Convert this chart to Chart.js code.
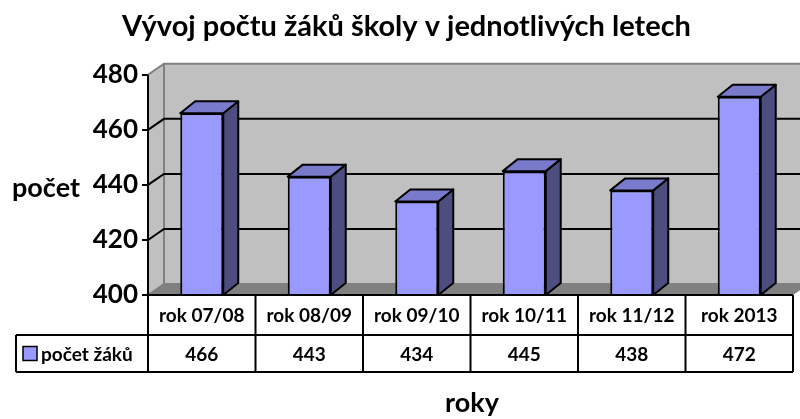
<!DOCTYPE html>
<html><head><meta charset="utf-8">
<script src="https://cdn.jsdelivr.net/npm/chart.js@4/dist/chart.umd.min.js"></script>
<style>html,body{margin:0;padding:0;background:#fff;overflow:hidden}</style>
</head><body>
<canvas id="c" width="800" height="419"></canvas>
<script>
const categories = ['rok 07/08','rok 08/09','rok 09/10','rok 10/11','rok 11/12','rok 2013'];
const pocetZaku = [466,443,434,445,438,472];
const yTicks = [400,420,440,460,480];
const seriesName = 'počet žáků';
const chartTitle = 'Vývoj počtu žáků školy v jednotlivých letech';
const yTitle = 'počet';
const xTitle = 'roky';

const FONT = 'Lato, "Open Sans", sans-serif';
const DX = 16, DY = -11;   // wall depth
const BDX = 15, BDY = -12; // bar depth
const TABLE_ROW1 = 40, TABLE_ROW2 = 37, LEGEND_LEFT = 16;

const plugin3d = {
  id: 'excel3d',
  beforeDatasetsDraw(chart) {
    const {ctx, chartArea: a, scales: {y}} = chart;
    const W = chart.width;
    ctx.save();
    ctx.fillStyle = '#C0C0C0';
    ctx.fillRect(a.left + DX, a.top + DY, W - a.left, a.bottom - a.top);
    ctx.beginPath();
    ctx.moveTo(a.left, a.top); ctx.lineTo(a.left + DX, a.top + DY);
    ctx.lineTo(a.left + DX, a.bottom + DY); ctx.lineTo(a.left, a.bottom);
    ctx.closePath(); ctx.fill();
    ctx.fillStyle = '#808080';
    ctx.beginPath();
    ctx.moveTo(a.left, a.bottom); ctx.lineTo(a.left + DX, a.bottom + DY);
    ctx.lineTo(a.right + DX, a.bottom + DY); ctx.lineTo(a.right, a.bottom);
    ctx.closePath(); ctx.fill();
    ctx.strokeStyle = '#808080'; ctx.lineWidth = 2;
    ctx.beginPath();
    ctx.moveTo(a.left, a.top); ctx.lineTo(a.left + DX, a.top + DY); ctx.lineTo(W, a.top + DY);
    ctx.moveTo(a.left + DX, a.top + DY); ctx.lineTo(a.left + DX, a.bottom + DY); ctx.lineTo(W, a.bottom + DY);
    ctx.moveTo(a.left, a.bottom); ctx.lineTo(a.left + DX, a.bottom + DY);
    ctx.stroke();
    ctx.strokeStyle = '#000'; ctx.lineWidth = 2;
    yTicks.slice(1, -1).forEach(v => {
      const py = y.getPixelForValue(v);
      ctx.beginPath();
      ctx.moveTo(a.left, py); ctx.lineTo(a.left + DX, py + DY); ctx.lineTo(W, py + DY);
      ctx.stroke();
    });
    ctx.restore();
  },
  afterDatasetsDraw(chart) {
    const {ctx, chartArea: a} = chart;
    ctx.save();
    ctx.lineWidth = 2; ctx.strokeStyle = '#000'; ctx.lineJoin = 'round';
    chart.getDatasetMeta(0).data.forEach(bar => {
      const {x, y, width} = bar.getProps(['x','y','width'], true);
      const base = a.bottom;
      const l = x - width / 2, r = x + width / 2;
      ctx.fillStyle = '#4D4D80';
      ctx.beginPath();
      ctx.moveTo(r, y); ctx.lineTo(r + BDX, y + BDY); ctx.lineTo(r + BDX, base + BDY); ctx.lineTo(r, base);
      ctx.closePath(); ctx.fill(); ctx.stroke();
      ctx.fillStyle = '#7A7ACC';
      ctx.beginPath();
      ctx.moveTo(l, y); ctx.lineTo(l + BDX, y + BDY); ctx.lineTo(r + BDX, y + BDY); ctx.lineTo(r, y);
      ctx.closePath(); ctx.fill(); ctx.stroke();
    });
    ctx.restore();
  },
  afterDraw(chart) {
    const {ctx, chartArea: a} = chart;
    const n = categories.length;
    const cw = (a.right - a.left) / n;
    const r0 = a.bottom, r1 = r0 + TABLE_ROW1, r2 = r1 + TABLE_ROW2;
    ctx.save();
    ctx.strokeStyle = '#000'; ctx.lineWidth = 2;
    ctx.beginPath();
    ctx.moveTo(a.left, a.top); ctx.lineTo(a.left, r2);
    ctx.moveTo(a.left, r0); ctx.lineTo(a.right, r0);
    ctx.moveTo(LEGEND_LEFT, r1); ctx.lineTo(a.right, r1);
    ctx.moveTo(LEGEND_LEFT, r2); ctx.lineTo(a.right, r2);
    ctx.moveTo(LEGEND_LEFT, r1); ctx.lineTo(LEGEND_LEFT, r2);
    for (let i = 1; i <= n; i++) {
      const x = a.left + i * cw;
      ctx.moveTo(x, r0); ctx.lineTo(x, r2);
    }
    ctx.stroke();
    ctx.fillStyle = '#000';
    ctx.textAlign = 'center'; ctx.textBaseline = 'middle';
    ctx.font = 'bold 19px ' + FONT;
    categories.forEach((c, i) => ctx.fillText(c, a.left + (i + 0.5) * cw, (r0 + r1) / 2 + 1));
    pocetZaku.forEach((v, i) => ctx.fillText(String(v), a.left + (i + 0.5) * cw, (r1 + r2) / 2 + 1));
    // legend key
    const ly = (r1 + r2) / 2;
    ctx.fillStyle = '#9999FF';
    ctx.fillRect(LEGEND_LEFT + 7, ly - 7, 14, 14);
    ctx.lineWidth = 1.5; ctx.strokeRect(LEGEND_LEFT + 7, ly - 7, 14, 14);
    ctx.fillStyle = '#000'; ctx.textAlign = 'left';
    ctx.font = 'bold 19px ' + FONT;
    ctx.fillText(seriesName, LEGEND_LEFT + 25, ly + 1);
    // axis titles
    ctx.textAlign = 'center';
    ctx.font = 'bold 27px ' + FONT;
    ctx.fillText(yTitle, 46, 188);
    ctx.fillText(xTitle, 472, 403);
    ctx.restore();
  }
};

new Chart(document.getElementById('c'), {
  type: 'bar',
  data: {
    labels: categories,
    datasets: [{
      label: seriesName,
      data: pocetZaku,
      backgroundColor: '#9999FF',
      borderColor: '#000',
      borderWidth: 2,
      categoryPercentage: 1,
      barPercentage: 0.4
    }]
  },
  options: {
    responsive: false,
    animation: false,
    layout: {padding: {left: 20, right: 7, top: 0, bottom: 124}},
    plugins: {
      legend: {display: false},
      tooltip: {enabled: false},
      title: {
        display: true, text: chartTitle, color: '#000',
        font: {family: FONT, size: 29, weight: 'bold'},
        padding: {top: 9, bottom: 31}
      }
    },
    scales: {
      x: {display: false},
      y: {
        min: 400, max: 480,
        afterFit: s => { s.width = 128; },
        afterBuildTicks: s => { s.ticks = yTicks.map(v => ({value: v})); },
        border: {display: false},
        grid: {drawOnChartArea: false, drawTicks: true, tickLength: 6, color: '#000', lineWidth: 2},
        ticks: {color: '#000', padding: 4, font: {family: FONT, size: 26, weight: 'bold'}}
      }
    }
  },
  plugins: [plugin3d]
});
</script>
</body></html>
